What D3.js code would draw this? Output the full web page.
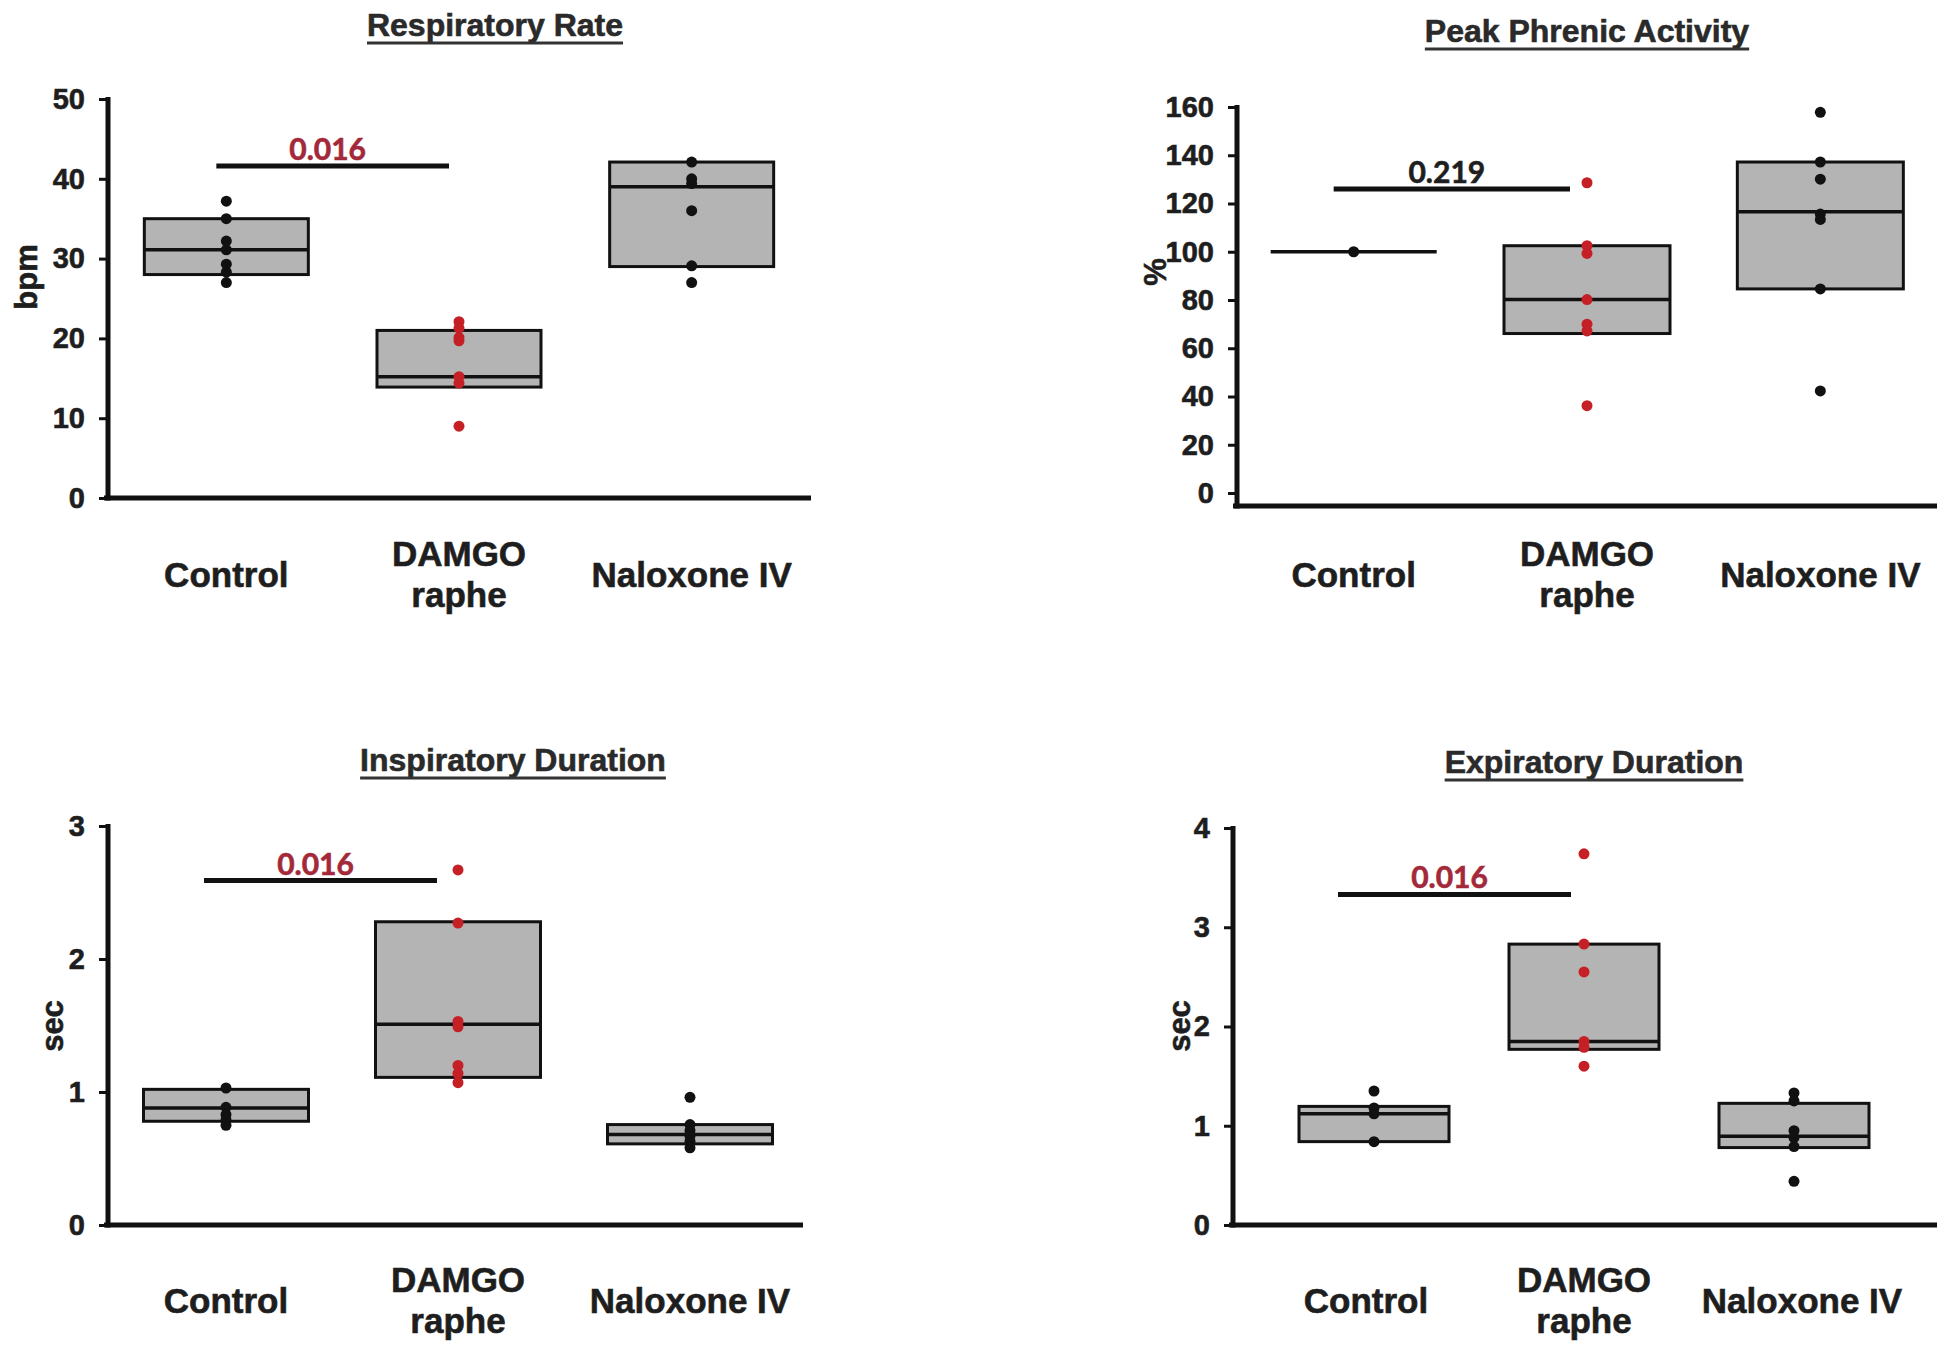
<!DOCTYPE html>
<html>
<head>
<meta charset="utf-8">
<script src="https://cdn.jsdelivr.net/npm/d3@7"></script>
<style>
body { margin: 0; background: #fff; }
text { font-family: "Liberation Sans", Arimo, Arial, sans-serif; font-weight: bold; fill: #1e1e1e; stroke: #1e1e1e; stroke-width: 0.6px; }
</style>
</head>
<body>
<svg id="svg1" width="1941" height="1347"></svg>
<script>
var categories = ["Control", "DAMGO raphe", "Naloxone IV"];
var categoryLines = [["Control"], ["DAMGO", "raphe"], ["Naloxone IV"]];
var pointColors = ["#111111", "#c42026", "#111111"];

// respiratory rate, bpm
var rateTicks = [0, 10, 20, 30, 40, 50];
var rateQ1 = [28, 13.9, 29];
var rateMedian = [31.1, 15.2, 39];
var rateQ3 = [35, 21, 42.1];
var ratePoints = [
  [37.2, 35, 32.2, 31.1, 29.3, 28.3, 27],
  [22.1, 21.3, 20.1, 19.7, 15.2, 14.4, 9],
  [42.1, 40, 39.4, 36, 29.1, 27]
];

// peak phrenic activity, % of control
var phrenicTicks = [0, 20, 40, 60, 80, 100, 120, 140, 160];
var phrenicQ1 = [100, 66.1, 84.6];
var phrenicMedian = [100, 80.2, 116.6];
var phrenicQ3 = [100, 102.5, 137.2];
var phrenicPoints = [
  [100],
  [128.6, 102.5, 99.3, 80.2, 70, 67.2, 36.2],
  [157.8, 137.2, 130.1, 115.6, 113.4, 84.6, 42.3]
];

// inspiratory duration, sec
var inspTicks = [0, 1, 2, 3];
var inspQ1 = [0.78, 1.11, 0.61];
var inspMedian = [0.88, 1.51, 0.68];
var inspQ3 = [1.02, 2.28, 0.755];
var inspPoints = [
  [1.03, 0.885, 0.83, 0.79, 0.75],
  [2.67, 2.27, 1.53, 1.49, 1.2, 1.14, 1.07],
  [0.96, 0.755, 0.71, 0.67, 0.63, 0.58]
];

// expiratory duration, sec
var expTicks = [0, 1, 2, 3, 4];
var expQ1 = [0.84, 1.77, 0.78];
var expMedian = [1.12, 1.85, 0.895];
var expQ3 = [1.195, 2.83, 1.226];
var expPoints = [
  [1.35, 1.18, 1.12, 0.84],
  [3.74, 2.83, 2.55, 1.85, 1.79, 1.6],
  [1.33, 1.25, 0.95, 0.88, 0.79, 0.44]
];

// control vs DAMGO comparison
var pLabels = ["0.016", "0.219", "0.016", "0.016"];
var pBarAt = [41.6, 126, 2.59, 3.33];
var pSignificant = [true, false, true, true];

var svg = d3.select("#svg1");

var layouts = [
  {title: "Respiratory Rate", unit: "bpm", titleX: 495, titleY: 36, axisX: 108, xEnd: 811,
   yTop: 99, yZero: 498, xAxisY: 498, band: [110, 808], labelBand: [110, 808], boxW: 164,
   unitX: 26, unitY: 277, labelY: 587, barX: [-10, -10]},
  {title: "Peak Phrenic Activity", unit: "%", titleX: 1587, titleY: 42, axisX: 1237, xEnd: 1937,
   yTop: 107, yZero: 493, xAxisY: 506, band: [1237, 1937], labelBand: [1237, 1937], boxW: 166,
   unitX: 1155, unitY: 272, labelY: 587, barX: [-20, -17]},
  {title: "Inspiratory Duration", unit: "sec", titleX: 513, titleY: 771, axisX: 108, xEnd: 803,
   yTop: 826, yZero: 1225, xAxisY: 1225, band: [110, 806], labelBand: [110, 806], boxW: 165,
   unitX: 52, unitY: 1026, labelY: 1313, barX: [-22, -21]},
  {title: "Expiratory Duration", unit: "sec", titleX: 1594, titleY: 773, axisX: 1233, xEnd: 1937,
   yTop: 828, yZero: 1225, xAxisY: 1225, band: [1269, 1899], labelBand: [1257, 1911], boxW: 150,
   unitX: 1179, unitY: 1026, labelY: 1313, barX: [-36, -13]}
];

function drawPanel(L, ticks, q1, med, q3, pts, k) {
  var x = d3.scaleBand().domain(categories).range(L.band);
  var xl = d3.scaleBand().domain(categories).range(L.labelBand);
  var y = d3.scaleLinear().domain([0, d3.max(ticks)]).range([L.yZero, L.yTop]);
  var cx = function(i) { return x(categories[i]) + x.bandwidth() / 2; };
  var g = svg.append("g");

  // title, underlined
  var t = g.append("text")
    .attr("x", L.titleX).attr("y", L.titleY)
    .attr("text-anchor", "middle")
    .attr("font-size", 32)
    .style("fill", "#2a2a2a").style("stroke", "#2a2a2a")
    .text(L.title);
  var tw = t.node().getComputedTextLength();
  g.append("line")
    .attr("x1", L.titleX - tw / 2).attr("x2", L.titleX + tw / 2)
    .attr("y1", L.titleY + 7).attr("y2", L.titleY + 7)
    .attr("stroke", "#333").attr("stroke-width", 3);

  // y axis
  g.append("g")
    .attr("transform", "translate(" + L.axisX + ",0)")
    .call(d3.axisLeft(y).tickValues(ticks).tickFormat(d3.format("d"))
      .tickSize(9).tickPadding(14).tickSizeOuter(0))
    .attr("font-size", 29)
    .call(function(a) { a.select(".domain").remove(); })
    .call(function(a) { a.selectAll(".tick line").attr("stroke", "#111").attr("stroke-width", 3); });

  g.append("line")
    .attr("x1", L.axisX).attr("x2", L.axisX)
    .attr("y1", y(d3.max(ticks)) - 2).attr("y2", L.xAxisY + 2.5)
    .attr("stroke", "#111").attr("stroke-width", 5);
  g.append("line")
    .attr("x1", L.axisX - 4).attr("x2", L.xEnd)
    .attr("y1", L.xAxisY).attr("y2", L.xAxisY)
    .attr("stroke", "#111").attr("stroke-width", 5);

  g.append("text")
    .attr("transform", "translate(" + L.unitX + "," + L.unitY + ") rotate(-90)")
    .attr("text-anchor", "middle")
    .attr("dominant-baseline", "central")
    .attr("font-size", 31)
    .text(L.unit);

  // category labels
  categories.forEach(function(c, i) {
    var lines = categoryLines[i];
    var lab = g.append("text")
      .attr("text-anchor", "middle")
      .attr("font-size", 35);
    lines.forEach(function(s, j) {
      lab.append("tspan")
        .attr("x", xl(c) + xl.bandwidth() / 2)
        .attr("y", lines.length == 1 ? L.labelY : L.labelY - 21 + j * 41)
        .text(s);
    });
  });

  // boxes
  categories.forEach(function(c, i) {
    g.append("rect")
      .attr("x", cx(i) - L.boxW / 2)
      .attr("y", y(q3[i]))
      .attr("width", L.boxW)
      .attr("height", y(q1[i]) - y(q3[i]))
      .attr("fill", "#b4b4b4")
      .attr("stroke", "#111")
      .attr("stroke-width", 3);
    g.append("line")
      .attr("x1", cx(i) - L.boxW / 2).attr("x2", cx(i) + L.boxW / 2)
      .attr("y1", y(med[i])).attr("y2", y(med[i]))
      .attr("stroke", "#111").attr("stroke-width", 3.5);
    g.selectAll(null)
      .data(pts[i])
      .enter().append("circle")
      .attr("cx", cx(i))
      .attr("cy", function(d) { return y(d); })
      .attr("r", 5.5)
      .attr("fill", pointColors[i]);
  });

  // comparison bar + p value
  var x1 = cx(0) + L.barX[0], x2 = cx(1) + L.barX[1], by = y(pBarAt[k]);
  g.append("line")
    .attr("x1", x1).attr("x2", x2)
    .attr("y1", by).attr("y2", by)
    .attr("stroke", "#111").attr("stroke-width", 5);
  var col = pSignificant[k] ? "#a3293a" : "#1e1e1e";
  g.append("text")
    .attr("x", (x1 + x2) / 2 - 5).attr("y", by - 6)
    .attr("text-anchor", "middle")
    .attr("font-size", 30)
    .style("font-family", "Lato, 'Open Sans', sans-serif")
    .style("fill", col).style("stroke", col)
    .text(pLabels[k]);
}

drawPanel(layouts[0], rateTicks, rateQ1, rateMedian, rateQ3, ratePoints, 0);
drawPanel(layouts[1], phrenicTicks, phrenicQ1, phrenicMedian, phrenicQ3, phrenicPoints, 1);
drawPanel(layouts[2], inspTicks, inspQ1, inspMedian, inspQ3, inspPoints, 2);
drawPanel(layouts[3], expTicks, expQ1, expMedian, expQ3, expPoints, 3);
</script>
</body>
</html>
